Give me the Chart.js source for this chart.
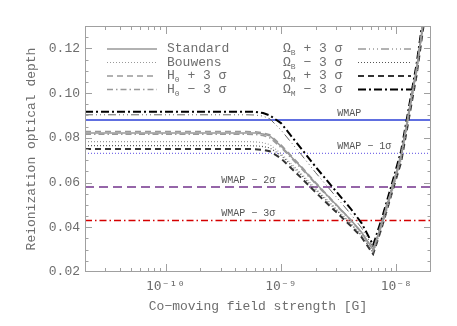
<!DOCTYPE html>
<html>
<head>
<meta charset="utf-8">
<script src="https://cdn.jsdelivr.net/npm/chart.js@4.4.1/dist/chart.umd.min.js"></script>
<style>
  html, body { margin: 0; padding: 0; background: #fff; }
</style>
</head>
<body>
<canvas id="tauChart" width="457" height="326"></canvas>
<script>
const fieldB = [2e-11, 5e-10, 6e-10, 7e-10, 8e-10, 1e-9, 1.5e-9, 2e-9, 3e-9, 4e-9, 5e-9, 6.3e-9, 7.5e-9, 9e-9, 1.1e-8, 1.25e-8, 1.5e-8, 1.8e-8];

// Optical depth for each model
const tauStandard = [0.0822, 0.0822, 0.0821, 0.0817, 0.0809, 0.0763, 0.0668, 0.0597, 0.0502, 0.0435, 0.0378, 0.0300, 0.042, 0.056, 0.072, 0.088, 0.111, 0.140];
const tauBouwens  = [0.0783, 0.0783, 0.0782, 0.0778, 0.0770, 0.0730, 0.0640, 0.0573, 0.0484, 0.0421, 0.0367, 0.0290, 0.040, 0.054, 0.070, 0.086, 0.109, 0.138];
const tauH0Plus   = [0.0828, 0.0828, 0.0827, 0.0822, 0.0814, 0.0769, 0.0672, 0.0600, 0.0503, 0.0435, 0.0377, 0.0300, 0.041, 0.055, 0.071, 0.087, 0.110, 0.139];
const tauH0Minus  = [0.0816, 0.0816, 0.0815, 0.0810, 0.0800, 0.0757, 0.0663, 0.0593, 0.0499, 0.0433, 0.0377, 0.0295, 0.042, 0.056, 0.072, 0.088, 0.111, 0.140];
const tauOmBPlus  = [0.0903, 0.0903, 0.0902, 0.0897, 0.0885, 0.0835, 0.0725, 0.0644, 0.0537, 0.0461, 0.0397, 0.0310, 0.043, 0.057, 0.073, 0.089, 0.112, 0.141];
const tauOmBMinus = [0.0765, 0.0765, 0.0764, 0.0761, 0.0755, 0.0722, 0.0633, 0.0567, 0.0478, 0.0416, 0.0363, 0.0285, 0.041, 0.055, 0.071, 0.087, 0.110, 0.139];
const tauOmMPlus  = [0.0750, 0.0750, 0.0749, 0.0746, 0.0740, 0.0708, 0.0621, 0.0556, 0.0469, 0.0408, 0.0356, 0.0280, 0.040, 0.054, 0.069, 0.085, 0.108, 0.137];
const tauOmMMinus = [0.0917, 0.0917, 0.0916, 0.0911, 0.0900, 0.0866, 0.0752, 0.0670, 0.0561, 0.0485, 0.0419, 0.0320, 0.044, 0.058, 0.074, 0.090, 0.113, 0.142];

const modelNames = ["Standard", "Bouwens", "H_0 + 3 σ", "H_0 − 3 σ", "Ω_B + 3 σ", "Ω_B − 3 σ", "Ω_M + 3 σ", "Ω_M − 3 σ"];

// WMAP constraints
const wmapTau = [0.088, 0.073, 0.058, 0.043];
const wmapNames = ["WMAP", "WMAP − 1σ", "WMAP − 2σ", "WMAP − 3σ"];
const wmapLabelB = [3.07e-9, 3.07e-9, 3.03e-10, 3.03e-10];

// Axes
const xRange = [2e-11, 2e-8];
const xTickVals = [1e-10, 1e-9, 1e-8];
const xTickLabels = ["10⁻¹⁰", "10⁻⁹", "10⁻⁸"];
const yRange = [0.02, 0.13];
const yTickVals = [0.02, 0.04, 0.06, 0.08, 0.10, 0.12];

const textColor = "#6e6e6e";
const axisColor = "#a0a0a0";
const monoFont = "'Liberation Mono', 'DejaVu Sans Mono', monospace";

// Line styles (one per model, same order as modelNames)
const modelStyles = [
  { color: "#999", width: 1.5, dash: [] },
  { color: "#999", width: 1.2, dash: [1, 2] },
  { color: "#999", width: 1.5, dash: [6, 4] },
  { color: "#999", width: 1.5, dash: [6, 3, 1.5, 3] },
  { color: "#666", width: 1, dash: [8, 3, 1, 3, 1, 3, 1, 3] },
  { color: "#555", width: 1.2, dash: [1, 2] },
  { color: "#333", width: 2, dash: [6, 4] },
  { color: "#000", width: 2, dash: [8, 3, 2, 3] },
];
const wmapStyles = [
  { color: "#2b3fd6", width: 1.5, dash: [] },
  { color: "#7b6fe8", width: 1.2, dash: [1, 2] },
  { color: "#9565a8", width: 2, dash: [9, 5] },
  { color: "#d40000", width: 1.5, dash: [7, 3, 1.5, 3] },
];

const modelTau = [tauStandard, tauBouwens, tauH0Plus, tauH0Minus, tauOmBPlus, tauOmBMinus, tauOmMPlus, tauOmMMinus];

// Builds the datasets: models first so they are drawn on top
const datasets = [];
modelTau.forEach((tau, i) => {
  const s = modelStyles[i];
  datasets.push({
    label: modelNames[i],
    data: fieldB.map((b, k) => ({ x: b, y: tau[k] })),
    borderColor: s.color,
    borderWidth: s.width,
    borderDash: s.dash,
    pointRadius: 0,
    tension: 0,
    fill: false,
  });
});
wmapTau.forEach((t, i) => {
  const s = wmapStyles[i];
  datasets.push({
    label: wmapNames[i],
    data: [{ x: xRange[0], y: t }, { x: xRange[1], y: t }],
    borderColor: s.color,
    borderWidth: s.width,
    borderDash: s.dash,
    pointRadius: 0,
    fill: false,
  });
});

// Draws text where "_X" means a subscript X
function drawRichText(ctx, str, x, y, size) {
  let cx = x;
  for (let i = 0; i < str.length; i++) {
    if (str[i] === "_" && i + 1 < str.length) {
      ctx.font = `${Math.round(size * 0.65)}px ${monoFont}`;
      ctx.fillText(str[i + 1], cx, y + size * 0.3);
      cx += ctx.measureText(str[i + 1]).width;
      i++;
    } else {
      ctx.font = `${size}px ${monoFont}`;
      ctx.fillText(str[i], cx, y);
      cx += ctx.measureText(str[i]).width;
    }
  }
}

// Frame, inward ticks, WMAP labels and legend
const decorPlugin = {
  id: "decor",
  afterDraw(chart) {
    const { ctx, chartArea: a, scales: { x, y } } = chart;
    ctx.save();
    ctx.setLineDash([]);
    ctx.strokeStyle = axisColor;
    ctx.lineWidth = 1;
    ctx.strokeRect(a.left + 0.5, a.top + 0.5, a.right - a.left - 1, a.bottom - a.top - 1);

    ctx.beginPath();
    // y ticks (major every 0.02, minor every 0.005)
    for (let v = 0.025; v < yRange[1] - 1e-9; v += 0.005) {
      const py = Math.round(y.getPixelForValue(v)) + 0.5;
      const major = yTickVals.some(t => Math.abs(t - v) < 1e-6);
      const len = major ? 7 : 3.5;
      ctx.moveTo(a.left, py); ctx.lineTo(a.left + len, py);
      ctx.moveTo(a.right, py); ctx.lineTo(a.right - len, py);
    }
    // x ticks (major at decades, minor at 2..9)
    for (let d = -11; d <= -8; d++) {
      for (let k = 1; k <= 9; k++) {
        const v = k * Math.pow(10, d);
        if (v <= xRange[0] || v >= xRange[1]) continue;
        const px = Math.round(x.getPixelForValue(v)) + 0.5;
        const len = k === 1 ? 8 : 4;
        ctx.moveTo(px, a.bottom); ctx.lineTo(px, a.bottom - len);
        ctx.moveTo(px, a.top); ctx.lineTo(px, a.top + len);
      }
    }
    ctx.stroke();

    // WMAP labels
    ctx.fillStyle = "#555";
    ctx.font = `10px ${monoFont}`;
    ctx.textBaseline = "middle";
    ctx.textAlign = "left";
    wmapNames.forEach((name, i) => {
      ctx.fillText(name, x.getPixelForValue(wmapLabelB[i]), y.getPixelForValue(wmapTau[i]) - 7);
    });

    // Legend in two columns
    const rowY = [49, 62.5, 76, 89.5];
    modelNames.forEach((name, i) => {
      const s = modelStyles[i];
      const row = i % 4;
      const left = i < 4;
      const lineX0 = left ? 107 : 358;
      const lineX1 = left ? 157 : 411;
      const textX = left ? 167 : 283;
      ctx.beginPath();
      ctx.strokeStyle = s.color;
      ctx.lineWidth = s.width;
      ctx.setLineDash(s.dash);
      ctx.moveTo(lineX0, rowY[row]);
      ctx.lineTo(lineX1, rowY[row]);
      ctx.stroke();
      ctx.fillStyle = textColor;
      drawRichText(ctx, name, textX, rowY[row], 13);
    });
    ctx.restore();
  },
};

new Chart(document.getElementById("tauChart"), {
  type: "line",
  data: { datasets: datasets },
  options: {
    responsive: false,
    animation: false,
    devicePixelRatio: 1,
    layout: { padding: { left: 20, top: 26, right: 26, bottom: 0 } },
    plugins: {
      legend: { display: false },
      tooltip: { enabled: false },
    },
    scales: {
      x: {
        type: "logarithmic",
        min: xRange[0],
        max: xRange[1],
        afterBuildTicks: (s) => { s.ticks = xTickVals.map(v => ({ value: v })); },
        afterFit: (s) => { s.height = 54; },
        ticks: {
          callback: (v) => xTickLabels[xTickVals.indexOf(v)],
          font: { family: "'DejaVu Sans Mono', monospace", size: 13 },
          color: textColor,
          padding: 7,
          maxRotation: 0,
          autoSkip: false,
        },
        grid: { display: false, drawTicks: false },
        border: { display: false },
        title: {
          display: true,
          text: "Co−moving field strength [G]",
          font: { family: monoFont, size: 13 },
          color: textColor,
          padding: { top: 0, bottom: 12 },
        },
      },
      y: {
        min: yRange[0],
        max: yRange[1],
        afterBuildTicks: (s) => { s.ticks = yTickVals.map(v => ({ value: v })); },
        afterFit: (s) => { s.width = 65; },
        ticks: {
          callback: (v) => v.toFixed(2),
          font: { family: monoFont, size: 13 },
          color: textColor,
          padding: 5,
        },
        grid: { display: false, drawTicks: false },
        border: { display: false },
        title: {
          display: true,
          text: "Reionization optical depth",
          font: { family: monoFont, size: 13 },
          color: textColor,
          padding: { top: 4, bottom: 0 },
        },
      },
    },
  },
  plugins: [decorPlugin],
});
</script>
</body>
</html>
